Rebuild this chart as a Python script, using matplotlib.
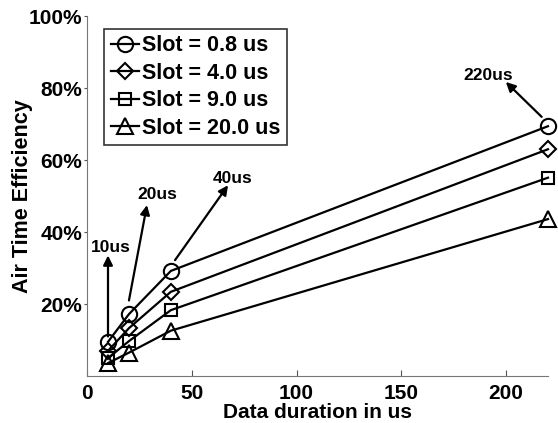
import numpy as np
import matplotlib
matplotlib.use("Agg")
import matplotlib.pyplot as plt

plt.rcParams['font.family'] = ['Liberation Sans', 'DejaVu Sans']
plt.rcParams['font.weight'] = 'bold'

# datos
duracion = [10, 20, 40, 220]
slot_08 = [0.095, 0.172, 0.292, 0.694]
slot_40 = [0.070, 0.133, 0.234, 0.630]
slot_90 = [0.050, 0.097, 0.183, 0.551]
slot_20 = [0.036, 0.065, 0.126, 0.436]
series = [slot_08, slot_40, slot_90, slot_20]
etiquetas = ["Slot = 0.8 us", "Slot = 4.0 us", "Slot = 9.0 us", "Slot = 20.0 us"]
marcadores = ["o", "D", "s", "^"]
tamanos = [11, 8.5, 8.5, 11]

# anotaciones: texto, punta de flecha, origen de flecha, posicion del texto
notas = ["10us", "20us", "40us", "220us"]
puntas = [(10, 0.335), (28.6, 0.475), (67.3, 0.53), (199.9, 0.817)]
colas = [(10, 0.11), (20, 0.21), (42, 0.322), (217, 0.72)]
textos = [(11.5, 0.356), (33.4, 0.505), (69.3, 0.55), (191.4, 0.836)]

fig = plt.figure(figsize=(5.58, 4.23), dpi=100)
ax = fig.add_axes([0.156, 0.111, 0.826, 0.851])

for y, lab, m, ms in zip(series, etiquetas, marcadores, tamanos):
    ax.plot(duracion, y, color="k", linewidth=1.6, marker=m, markersize=ms,
            markerfacecolor="none", markeredgewidth=1.5, label=lab, clip_on=False)

for t, p, c, tx in zip(notas, puntas, colas, textos):
    ax.annotate("", xy=p, xytext=c,
                arrowprops=dict(arrowstyle="-|>", color="k", lw=1.6,
                                mutation_scale=14, shrinkA=0, shrinkB=0))
    ax.text(tx[0], tx[1], t, fontsize=12.5, fontweight="bold", ha="center", va="center")

ax.set_xlim(0, 220)
ax.set_ylim(0, 1.0)
ax.set_xticks([0, 50, 100, 150, 200])
ax.set_yticks([0.2, 0.4, 0.6, 0.8, 1.0])
ax.set_yticklabels(["20%", "40%", "60%", "80%", "100%"])
ax.tick_params(axis="x", labelsize=15, direction="in", length=4, color="#555555", pad=6)
ax.tick_params(axis="y", labelsize=15, direction="out", length=2.5, color="#555555", pad=1)
for lbl in ax.get_xticklabels() + ax.get_yticklabels():
    lbl.set_fontweight("bold")
ax.spines["top"].set_visible(False)
ax.spines["right"].set_visible(False)
ax.spines["left"].set_color("#777777")
ax.spines["bottom"].set_color("#777777")

ax.set_xlabel("Data duration in us", fontsize=15, fontweight="bold")
ax.xaxis.set_label_coords(0.5, -0.075)
ax.xaxis.label.set_verticalalignment("top")
ax.set_ylabel("Air Time Efficiency", fontsize=15.5, fontweight="bold")
ax.yaxis.set_label_coords(-0.118, 0.5)

leg = ax.legend(loc="upper left", bbox_to_anchor=(0.037, 0.964), fontsize=15.5,
                frameon=True, fancybox=False, edgecolor="k", handlelength=1.3,
                handletextpad=0.15, borderpad=0.3, labelspacing=0.3, borderaxespad=0)
leg.get_frame().set_linewidth(1.2)
for txt in leg.get_texts():
    txt.set_fontweight("bold")

fig.savefig("out.png", dpi=100)
